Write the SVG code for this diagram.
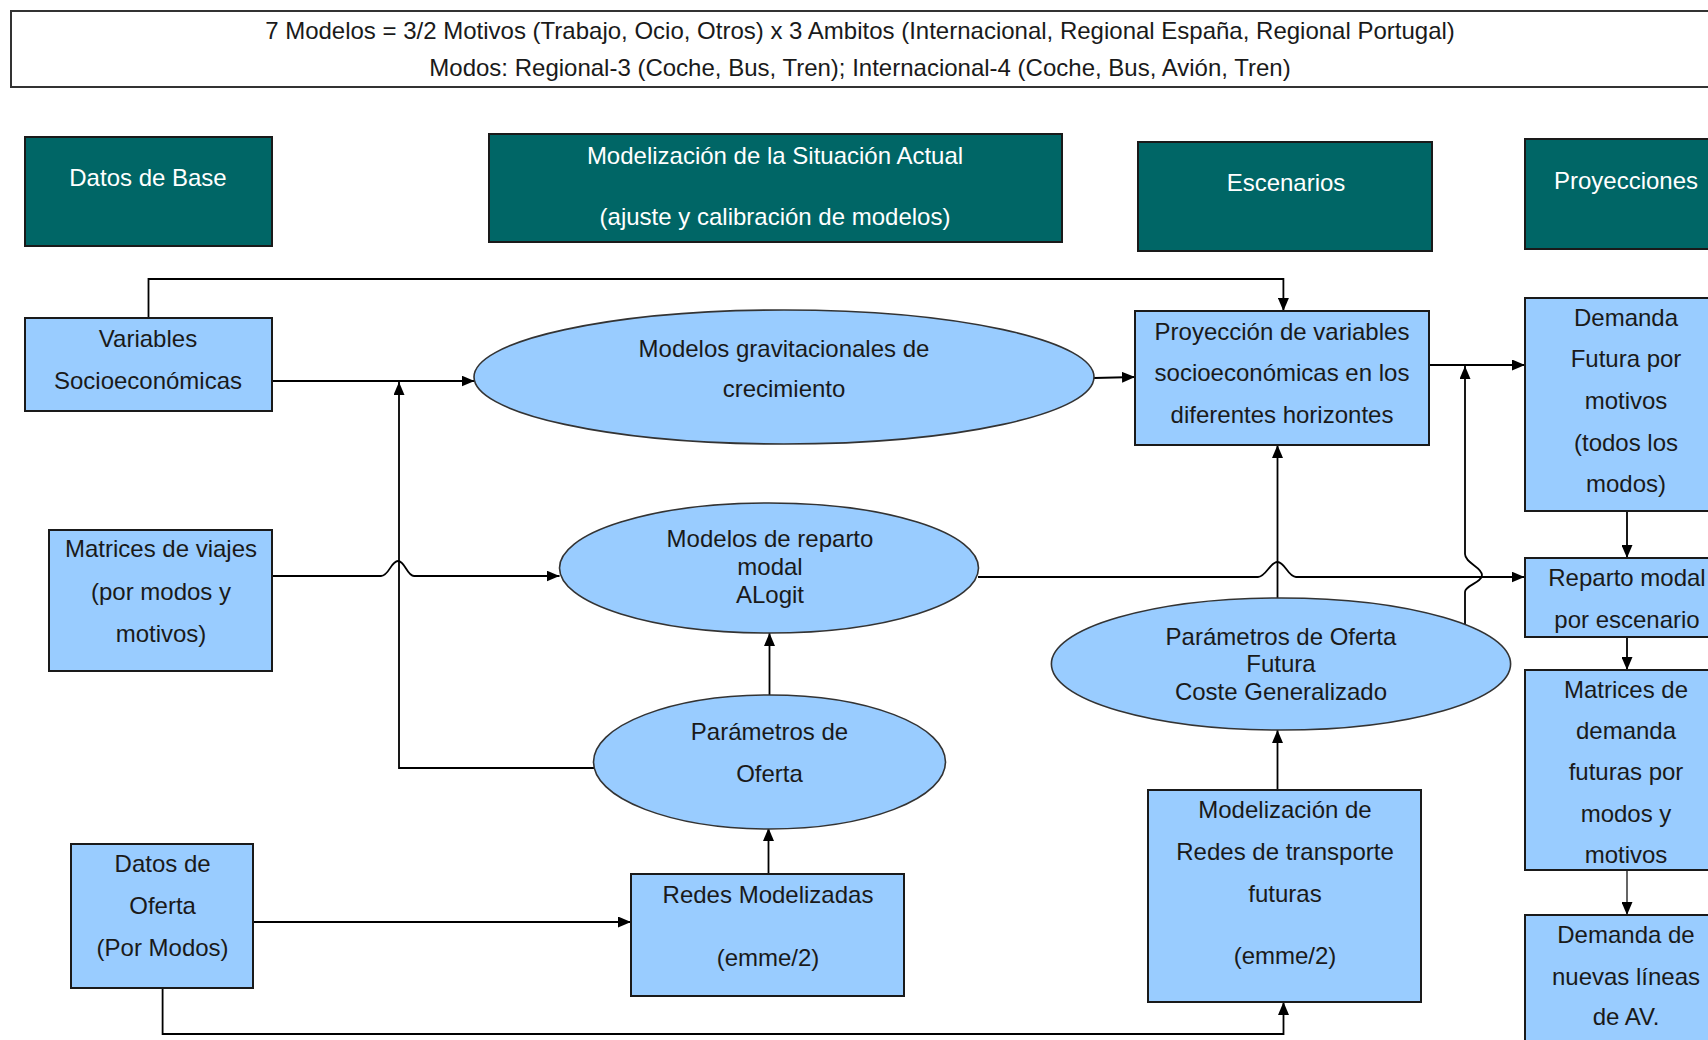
<svg xmlns="http://www.w3.org/2000/svg" width="1708" height="1040" viewBox="0 0 1708 1040">
<defs>
<marker id="arr" markerUnits="userSpaceOnUse" markerWidth="13" markerHeight="11" refX="13" refY="5.5" orient="auto">
<path d="M0,0 L13,5.5 L0,11 z" fill="#000"/>
</marker>
<style>
text{font-family:"Liberation Sans",Arial,sans-serif;font-size:24px;text-anchor:middle;fill:#1a1a1a}
.hdr rect{fill:#006666;stroke:#1a1a1a;stroke-width:2}
.hdr text{fill:#ffffff}
.box rect{fill:#99ccff;stroke:#1a1a1a;stroke-width:2}
.ell ellipse{fill:#99ccff;stroke:#333;stroke-width:1.6}
.top rect{fill:#fff;stroke:#333;stroke-width:2}
#connectors path{fill:none;stroke:#000;stroke-width:1.8;marker-end:url(#arr)}
</style>
</defs>
<rect width="1708" height="1040" fill="#fff"/>

<g id="legend" class="top">
<rect x="11" y="11" width="1720" height="76"/>
<text x="860" y="39">7 Modelos = 3/2 Motivos (Trabajo, Ocio, Otros) x 3 Ambitos (Internacional, Regional España, Regional Portugal)</text>
<text x="860" y="76">Modos: Regional-3 (Coche, Bus, Tren); Internacional-4 (Coche, Bus, Avión, Tren)</text>
</g>

<g id="h-datos" class="hdr"><rect x="25" y="137" width="247" height="109"/><text x="148" y="186">Datos de Base</text></g>
<g id="h-model" class="hdr"><rect x="489" y="134" width="573" height="108"/><text x="775" y="164">Modelización de la Situación Actual</text><text x="775" y="225">(ajuste y calibración de modelos)</text></g>
<g id="h-esc" class="hdr"><rect x="1138" y="142" width="294" height="109"/><text x="1286" y="191">Escenarios</text></g>
<g id="h-proy" class="hdr"><rect x="1525" y="139" width="205" height="110"/><text x="1626" y="189">Proyecciones</text></g>

<g id="connectors">
<path d="M148.5,318 V279 H1283.4 V311"/>
<path d="M272,381 H474.5"/>
<path d="M594,768 H399 V382"/>
<path d="M272,576 H381 C389,576 391,561 398,561 C405,561 407,576 414,576 H559.5"/>
<path d="M1094,378 L1135,377"/>
<path d="M1429,365 H1525"/>
<path d="M1465,629 V592 C1465,585 1482,583 1482,575 C1482,567 1465,563 1465,554 V366"/>
<path d="M978,577 H1258 C1266,577 1270,562 1277.5,562 C1285,562 1288,577 1296,577 H1524.5"/>
<path d="M1277.5,598 V445"/>
<path d="M1277.5,790 V730"/>
<path d="M162.6,988 V1034 H1283.5 V1002"/>
<path d="M254,922 H631"/>
<path d="M768.5,874 V828"/>
<path d="M769.5,695 V633"/>
<path d="M1627,511 V558"/>
<path d="M1627,637 V670"/>
<path d="M1627,870 V915" style="stroke:#555"/>
</g>

<g id="n-variables" class="box"><rect x="25" y="318" width="247" height="93"/><text x="148" y="347">Variables</text><text x="148" y="389">Socioeconómicas</text></g>
<g id="n-matrices" class="box"><rect x="49" y="530" width="223" height="141"/><text x="161" y="557">Matrices de viajes</text><text x="161" y="600">(por modos y</text><text x="161" y="642">motivos)</text></g>
<g id="n-datosoferta" class="box"><rect x="71" y="844" width="182" height="144"/><text x="162.6" y="872">Datos de</text><text x="162.6" y="914">Oferta</text><text x="162.6" y="956">(Por Modos)</text></g>
<g id="n-redes" class="box"><rect x="631" y="874" width="273" height="122"/><text x="768" y="903">Redes Modelizadas</text><text x="768" y="966">(emme/2)</text></g>
<g id="n-proyeccion" class="box"><rect x="1135" y="311" width="294" height="134"/><text x="1282" y="340">Proyección de variables</text><text x="1282" y="381">socioeconómicas en los</text><text x="1282" y="423">diferentes horizontes</text></g>
<g id="n-demanda" class="box"><rect x="1525" y="298" width="205" height="213"/><text x="1626" y="326">Demanda</text><text x="1626" y="367">Futura por</text><text x="1626" y="409">motivos</text><text x="1626" y="451">(todos los</text><text x="1626" y="492">modos)</text></g>
<g id="n-reparto" class="box"><rect x="1525" y="558" width="205" height="79"/><text x="1627" y="586">Reparto modal</text><text x="1627" y="628">por escenario</text></g>
<g id="n-matdem" class="box"><rect x="1525" y="670" width="205" height="200"/><text x="1626" y="698">Matrices de</text><text x="1626" y="739">demanda</text><text x="1626" y="780">futuras por</text><text x="1626" y="822">modos y</text><text x="1626" y="863">motivos</text></g>
<g id="n-nuevas" class="box"><rect x="1525" y="915" width="205" height="140"/><text x="1626" y="943">Demanda de</text><text x="1626" y="985">nuevas líneas</text><text x="1626" y="1025">de AV.</text></g>
<g id="n-redesfut" class="box"><rect x="1148" y="790" width="273" height="212"/><text x="1285" y="818">Modelización de</text><text x="1285" y="860">Redes de transporte</text><text x="1285" y="902">futuras</text><text x="1285" y="964">(emme/2)</text></g>

<g id="e-grav" class="ell"><ellipse cx="784" cy="377" rx="310" ry="67"/><text x="784" y="357">Modelos gravitacionales de</text><text x="784" y="397">crecimiento</text></g>
<g id="e-reparto" class="ell"><ellipse cx="769" cy="568" rx="209.5" ry="65"/><text x="770" y="547">Modelos de reparto</text><text x="770" y="575">modal</text><text x="770" y="603">ALogit</text></g>
<g id="e-param" class="ell"><ellipse cx="769.5" cy="762" rx="176" ry="67"/><text x="769.5" y="740">Parámetros de</text><text x="769.5" y="782">Oferta</text></g>
<g id="e-paramfut" class="ell"><ellipse cx="1281" cy="664" rx="229.6" ry="66"/><text x="1281" y="645">Parámetros de Oferta</text><text x="1281" y="672">Futura</text><text x="1281" y="700">Coste Generalizado</text></g>
</svg>
